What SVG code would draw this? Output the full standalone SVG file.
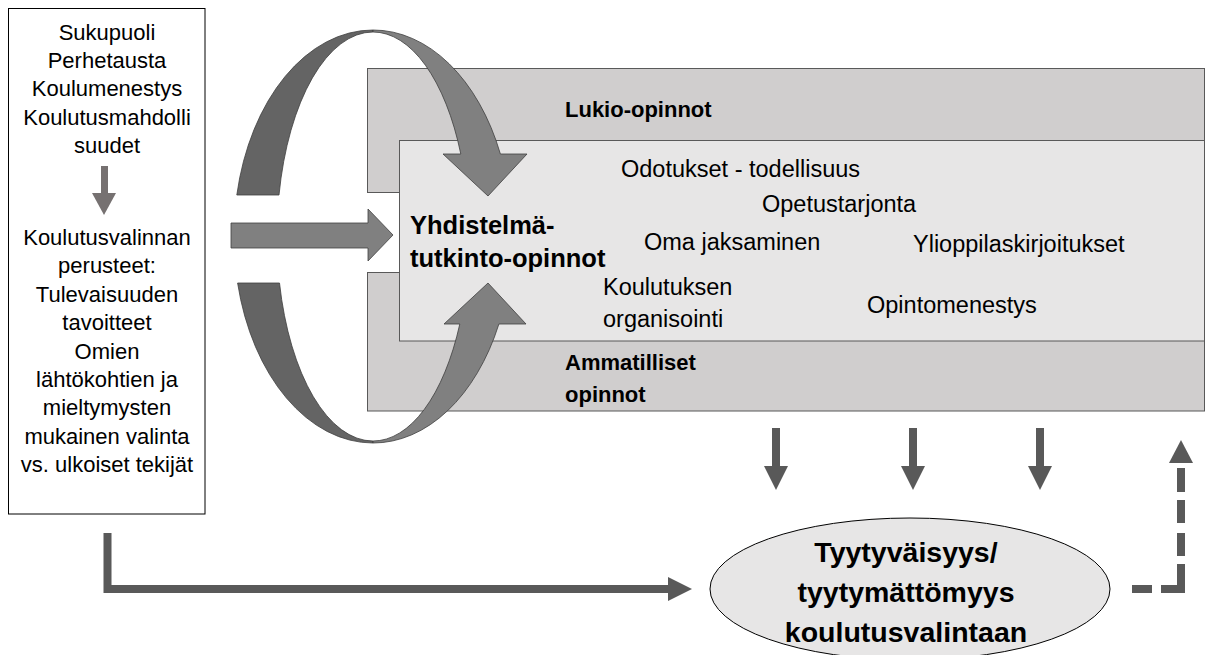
<svg xmlns="http://www.w3.org/2000/svg" width="1205" height="655" viewBox="0 0 1205 655">
<defs>
<style>
text{font-family:"Liberation Sans",Arial,sans-serif;fill:#000}
.lb{font-size:22px;text-anchor:middle}
.in{font-size:23.5px}
.hd{font-size:22px;font-weight:bold}
.yh{font-size:25.5px;font-weight:bold}
.el{font-size:28.5px;font-weight:bold;text-anchor:middle}
.band{fill:#d0cece;stroke:#595959;stroke-width:1}
.inner{fill:#e7e6e6;stroke:#595959;stroke-width:1}
.dark{fill:#646464;stroke:#3f3f3f;stroke-width:0.8}
.light{fill:#808080;stroke:#3f3f3f;stroke-width:0.8}
.conn{fill:#595959}
</style>
</defs>
<rect width="1205" height="655" fill="#fff"/>
<g id="factors-box">
<rect x="8.5" y="8.5" width="196.5" height="505.5" fill="#fff" stroke="#000" stroke-width="1"/>
<text class="lb" x="107" y="39.5">Sukupuoli</text>
<text class="lb" x="107" y="67.9">Perhetausta</text>
<text class="lb" x="107" y="96.3">Koulumenestys</text>
<text class="lb" x="107" y="124.7">Koulutusmahdolli</text>
<text class="lb" x="107" y="153">suudet</text>
<text class="lb" x="107" y="245">Koulutusvalinnan</text>
<text class="lb" x="107" y="273.4">perusteet:</text>
<text class="lb" x="107" y="301.8">Tulevaisuuden</text>
<text class="lb" x="107" y="330.2">tavoitteet</text>
<text class="lb" x="107" y="358.6">Omien</text>
<text class="lb" x="107" y="387">lähtökohtien ja</text>
<text class="lb" x="107" y="415.4">mieltymysten</text>
<text class="lb" x="107" y="443.8">mukainen valinta</text>
<text class="lb" x="107" y="472.2">vs. ulkoiset tekijät</text>
</g>
<g id="lukio-band">
<rect class="band" x="367.5" y="68.5" width="837" height="124"/>
<text class="hd" x="565" y="117">Lukio-opinnot</text>
</g>
<g id="ammatilliset-band">
<rect class="band" x="367.5" y="272.5" width="837" height="138.5"/>
<text class="hd" x="565" y="370">Ammatilliset</text>
<text class="hd" x="565" y="402">opinnot</text>
</g>
<g id="yhdistelma">
<rect class="inner" x="399.5" y="140.5" width="805" height="200.5"/>
<text class="yh" x="410" y="234">Yhdistelmä-</text>
<text class="yh" x="410" y="267">tutkinto-opinnot</text>
<text class="in" x="621" y="177">Odotukset - todellisuus</text>
<text class="in" x="762" y="212">Opetustarjonta</text>
<text class="in" x="644" y="250">Oma jaksaminen</text>
<text class="in" x="913" y="252">Ylioppilaskirjoitukset</text>
<text class="in" x="603" y="295">Koulutuksen</text>
<text class="in" x="603" y="327">organisointi</text>
<text class="in" x="867" y="313">Opintomenestys</text>
</g>
<g id="tyytyvaisyys">
<ellipse cx="910" cy="589" rx="200" ry="71" fill="#e7e6e6" stroke="#000" stroke-width="1"/>
<text class="el" x="906" y="562">Tyytyväisyys/</text>
<text class="el" x="906" y="602">tyytymättömyys</text>
<text class="el" x="906" y="642">koulutusvalintaan</text>
</g>
<g id="connectors">
<rect x="101" y="166" width="7" height="27" fill="#767171"/>
<polygon points="92,193 116,193 104,215" fill="#767171"/>
<polygon points="231,223 368,223 368,209 393,235 368,261 368,248 231,248" fill="#808080" stroke="#404040" stroke-width="0.8"/>
<path class="dark" d="M236.8 195 A139 206.5 0 0 1 373 30 L373 32 A96 204.5 0 0 0 279 195 Z"/>
<path class="light" d="M373 30 A139 206.5 0 0 1 500.4 154 L527 154 L488 196 L443 154 L460.8 154 A96 204.5 0 0 0 373 32 Z"/>
<path class="dark" d="M237.6 283 A139 206.5 0 0 0 373 443 L373 441 A96 204.5 0 0 1 279.5 283 Z"/>
<path class="light" d="M373 443 A139 206.5 0 0 0 498.9 324 L526 324 L488 283 L444 324 L459.8 324 A96 204.5 0 0 1 373 441 Z"/>
<path d="M107.5 533 V589 H669" fill="none" stroke="#595959" stroke-width="8"/>
<polygon class="conn" points="668,577 692,589 668,601"/>
<rect class="conn" x="772" y="428" width="8" height="38"/>
<polygon class="conn" points="764,466 788,466 776,490"/>
<rect class="conn" x="909" y="428" width="8" height="38"/>
<polygon class="conn" points="901,466 925,466 913,490"/>
<rect class="conn" x="1036" y="428" width="8" height="38"/>
<polygon class="conn" points="1028,466 1052,466 1040,490"/>
<rect class="conn" x="1132" y="585" width="20" height="8"/>
<path class="conn" d="M1161 585 H1177 V564 H1185 V593 H1161 Z"/>
<rect class="conn" x="1177" y="533" width="8" height="23"/>
<rect class="conn" x="1177" y="500" width="8" height="23"/>
<rect class="conn" x="1177" y="468" width="8" height="24"/>
<polygon class="conn" points="1169,463 1193,463 1181,440"/>
</g>
</svg>
